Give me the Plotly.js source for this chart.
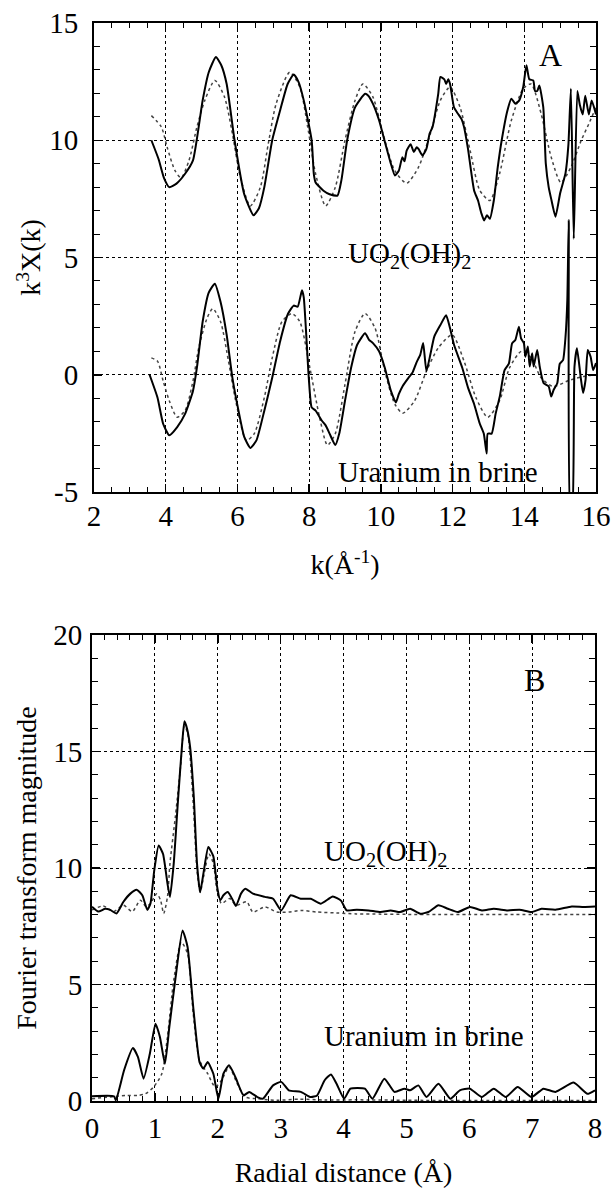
<!DOCTYPE html>
<html>
<head>
<meta charset="utf-8">
<script src="https://cdn.plot.ly/plotly-3.0.1.min.js"></script>
<style>html,body{margin:0;padding:0;background:#fff;}#chart{width:616px;height:1188px;}</style>
</head>
<body>
<div id="chart"></div>
<script>
// ---------- Panel A : k^3 X(k) ----------
const kA_uo2_exp = [3.6,3.8,3.95,4.1,4.3,4.54,4.76,5.03,5.2,5.4,5.55,5.7,5.92,6.19,6.45,6.6,6.75,6.97,7.19,7.4,7.57,7.7,7.85,8.07,8.13,8.18,8.4,8.57,8.79,8.9,9.06,9.28,9.56,9.65,9.78,9.95,10.1,10.28,10.39,10.5,10.6,10.66,10.72,10.83,10.92,11.0,11.05,11.16,11.27,11.36,11.44,11.6,11.66,11.77,11.82,11.88,11.93,12.04,12.15,12.25,12.32,12.43,12.6,12.71,12.8,12.88,12.96,13.04,13.15,13.26,13.37,13.53,13.64,13.75,13.86,13.97,14.06,14.14,14.25,14.3,14.36,14.42,14.53,14.6,14.68,14.75,14.87,15.0,15.15,15.23,15.3,15.38,15.48,15.55,15.63,15.7,15.8,15.88,16.0];
const vA_uo2_exp = [10.0,9.2,8.4,8.0,8.15,8.57,9.14,11.7,12.9,13.55,13.2,12.4,10.0,7.7,6.8,7.1,8.0,10.0,11.27,12.4,12.8,12.5,11.7,10.0,8.57,8.2,7.85,7.7,7.64,8.3,10.0,11.4,11.98,11.9,11.55,10.85,10.0,9.0,8.5,8.7,9.28,9.1,9.56,9.83,9.5,9.7,9.63,9.35,9.63,10.28,10.56,11.98,12.7,12.6,12.4,12.6,12.4,11.4,11.13,10.9,10.56,9.63,7.86,7.43,6.9,6.58,6.8,6.65,7.43,8.85,10.0,11.27,11.77,11.56,11.7,12.27,13.2,12.6,12.55,12.1,12.1,12.33,11.4,9.0,8.0,7.5,6.74,7.74,8.6,9.8,12.2,5.8,12.1,11.5,11.1,11.9,11.1,11.7,11.1];

const kA_uo2_fit = [3.6,3.88,4.04,4.26,4.43,4.65,4.87,5.09,5.37,5.64,5.86,6.08,6.36,6.64,6.86,7.08,7.46,7.74,7.96,8.18,8.46,8.73,9.0,9.28,9.5,9.78,10.06,10.39,10.72,11.05,11.38,11.66,11.93,12.21,12.49,12.76,13.04,13.31,13.64,13.97,14.19,14.47,14.75,15.02,15.3,15.59,15.8,16.0];
const vA_uo2_fit = [11.05,10.56,9.7,8.7,8.4,9.14,10.56,11.7,12.55,11.84,10.28,8.43,7.2,8.0,9.85,11.56,12.9,12.27,10.56,8.57,7.2,8.0,10.0,11.7,12.4,11.84,10.28,8.7,8.17,8.85,10.28,11.7,12.27,11.4,9.56,7.86,7.43,8.57,10.85,12.2,12.4,11.13,9.28,8.2,8.85,10.0,10.7,11.4];

const kA_brine_exp = [3.55,3.77,3.93,4.1,4.32,4.54,4.76,4.87,5.03,5.2,5.37,5.53,5.7,5.86,6.03,6.19,6.36,6.53,6.75,6.97,7.19,7.41,7.57,7.68,7.8,7.85,7.99,8.07,8.18,8.35,8.46,8.57,8.73,8.84,9.0,9.17,9.34,9.56,9.67,9.78,9.95,10.11,10.28,10.42,10.5,10.61,10.77,10.88,10.99,11.1,11.18,11.27,11.38,11.49,11.66,11.82,11.93,12.04,12.27,12.43,12.6,12.76,12.87,12.95,12.98,13.09,13.2,13.32,13.45,13.57,13.66,13.75,13.85,13.91,13.99,14.03,14.1,14.15,14.22,14.26,14.36,14.43,14.54,14.68,14.75,14.82,14.92,14.99,15.08,15.15,15.2,15.24,15.29,15.33,15.4,15.47,15.57,15.64,15.71,15.77,15.85,15.92,16.0];
const vA_brine_exp = [0,-0.97,-2.1,-2.58,-2.23,-1.67,-0.69,0.3,2.26,3.5,3.88,3.1,1.7,-0.13,-1.53,-2.65,-3.12,-2.8,-1.53,-0.13,1.42,2.6,2.95,2.9,3.6,3.3,-0.13,-1.39,-1.53,-1.95,-2.16,-2.51,-3.0,-2.51,-1.11,0.3,1.28,1.77,1.49,1.35,1.0,0.3,-0.69,-1.18,-0.83,-0.48,-0.13,0.08,0.51,0.86,1.35,0.15,0.86,1.63,2.12,2.54,1.98,1.28,0.3,-0.55,-1.25,-2.09,-2.51,-3.36,-2.51,-2.51,-1.67,-0.9,0.2,0.47,1.34,1.48,2.05,1.55,1.34,0.77,1.2,0.35,0.92,0.35,1.06,0.35,-0.36,-0.5,-0.93,-0.64,-0.36,0.47,0.62,1.62,3.18,6.6,-6,-6,0.35,1.13,-0.07,-0.78,-0.21,1.06,0.77,0.2,0.5];

const kA_brine_fit = [3.6,3.77,3.93,4.1,4.32,4.54,4.76,4.92,5.15,5.31,5.53,5.75,5.97,6.25,6.47,6.75,6.97,7.24,7.52,7.74,8.02,8.29,8.51,8.73,9.0,9.28,9.56,9.84,10.11,10.39,10.61,10.94,11.27,11.6,11.99,12.32,12.65,12.98,13.31,13.59,13.92,14.19,14.47,14.8,15.25,15.69,16.0];
const vA_brine_fit = [0.72,0.58,-0.27,-1.11,-1.81,-1.53,-0.27,1.14,2.4,2.82,2.26,0.58,-1.25,-2.8,-2.51,-0.97,0.72,2.26,2.61,2.26,0.3,-1.81,-3.0,-2.51,-0.41,1.84,2.61,1.98,0.15,-1.25,-1.64,-1.11,0.15,1.14,1.7,0.58,-0.97,-1.81,-1.11,0.3,1.0,0.72,-0.13,-0.5,-0.24,-0.06,0.0];

// ---------- Panel B : Fourier transform magnitude ----------
const rB_uo2_exp = [0,0.1,0.21,0.29,0.39,0.5,0.61,0.71,0.8,0.88,0.93,0.99,1.06,1.13,1.2,1.24,1.3,1.37,1.43,1.47,1.51,1.56,1.62,1.67,1.72,1.78,1.85,1.93,1.99,2.04,2.09,2.16,2.24,2.29,2.37,2.44,2.56,2.75,2.88,3.01,3.16,3.32,3.48,3.64,3.83,3.96,4.05,4.21,4.4,4.59,4.75,4.9,5.06,5.22,5.35,5.51,5.66,5.82,6.01,6.2,6.39,6.61,6.8,6.99,7.15,7.37,7.63,7.82,8.0];
const mB_uo2_exp = [8.34,8.13,8.25,8.2,8.05,8.55,8.9,9.07,8.83,8.2,8.48,9.9,10.97,10.6,9.34,8.76,10.2,13.0,15.2,16.3,16.0,15.2,13.0,10.2,8.96,9.9,10.9,10.5,9.2,8.62,8.83,8.97,8.62,8.37,8.9,9.11,8.9,8.76,8.68,8.18,8.83,8.68,8.68,8.47,8.78,8.6,8.18,8.21,8.18,8.11,8.18,8.11,8.25,8.04,8.11,8.4,8.25,8.11,8.33,8.18,8.25,8.18,8.21,8.11,8.25,8.21,8.35,8.33,8.35];

const rB_uo2_fit = [0,0.18,0.34,0.5,0.64,0.77,0.86,0.93,1.03,1.09,1.14,1.2,1.24,1.33,1.41,1.47,1.52,1.56,1.62,1.67,1.72,1.78,1.86,1.93,1.99,2.06,2.19,2.29,2.46,2.56,2.75,2.94,3.13,3.32,3.58,3.89,4.2,4.6,5.0,5.5,6.0,7.0,8.0];
const mB_uo2_fit = [8.2,8.37,8.13,8.4,8.13,8.62,8.34,8.48,8.9,8.62,8.05,8.76,10.2,12.3,14.4,16.1,15.8,14.8,12.3,9.9,8.96,9.7,10.6,10.2,9.0,8.48,8.69,8.4,8.55,8.11,8.33,8.11,8.11,8.18,8.11,8.07,8.03,8.02,8.01,8.0,8.0,8.0,8.0];

const rB_brine_exp = [0,0.35,0.38,0.51,0.65,0.73,0.82,0.92,1.01,1.08,1.16,1.23,1.33,1.44,1.52,1.61,1.71,1.77,1.84,1.93,2.01,2.09,2.18,2.28,2.41,2.5,2.63,2.72,2.88,3.01,3.13,3.32,3.48,3.58,3.7,3.8,3.89,4.01,4.11,4.34,4.46,4.65,4.81,4.97,5.06,5.19,5.32,5.51,5.7,5.85,6.01,6.2,6.39,6.58,6.77,6.99,7.18,7.37,7.66,7.88,8.0];
const mB_brine_exp = [0.2,0.2,0.03,1.32,2.27,1.89,0.96,2.03,3.32,2.75,1.6,3.18,5.32,7.32,6.61,4.03,1.67,1.39,1.67,1.17,0.1,1.17,1.53,1.03,0.24,0.39,0.17,0.1,0.67,0.82,0.46,0.39,0.17,0.24,0.89,1.14,0.74,0.1,0.53,0.53,0.1,0.96,0.39,0.53,0.46,0.67,0.17,0.74,0.1,0.46,0.53,0.17,0.53,0.17,0.6,0.17,0.53,0.39,0.79,0.31,0.46];

const rB_brine_fit = [0,0.28,0.54,0.73,0.85,0.98,1.11,1.2,1.3,1.42,1.52,1.61,1.71,1.84,1.96,2.06,2.18,2.31,2.44,2.63,2.94,3.3,3.7,4.2,5.0,6.0,7.0,8.0];
const mB_brine_fit = [0.1,0.17,0.24,0.24,0.31,0.6,1.17,2.75,5.18,6.82,6.32,3.75,1.75,1.17,0.6,0.89,1.46,0.74,0.17,0.1,0.03,0.08,0.04,0.05,0.03,0.02,0.02,0.02];

// tick labels (panel A y axis uses a plain hyphen as in the original)
const yTicksA = [-5,0,5,10,15];
const yTickTextA = ["-5","0","5","10","15"];

const FONT = 'Liberation Serif';

function solid(){ return {color:'#000', width:2, shape:'spline', smoothing:0.5}; }
function fit(){ return {color:'#444', width:1.5, dash:'dot', shape:'spline', smoothing:0.7}; }

const traces = [
  {x:kA_uo2_fit, y:vA_uo2_fit, xaxis:'x', yaxis:'y', mode:'lines', line:fit(), name:'UO2(OH)2 fit'},
  {x:kA_brine_fit, y:vA_brine_fit, xaxis:'x', yaxis:'y', mode:'lines', line:fit(), name:'brine fit'},
  {x:kA_uo2_exp, y:vA_uo2_exp, xaxis:'x', yaxis:'y', mode:'lines', line:solid(), name:'UO2(OH)2'},
  {x:kA_brine_exp, y:vA_brine_exp, xaxis:'x', yaxis:'y', mode:'lines', line:solid(), name:'Uranium in brine'},
  {x:rB_uo2_fit, y:mB_uo2_fit, xaxis:'x2', yaxis:'y2', mode:'lines', line:fit(), name:'UO2(OH)2 fit'},
  {x:rB_brine_fit, y:mB_brine_fit, xaxis:'x2', yaxis:'y2', mode:'lines', line:fit(), name:'brine fit'},
  {x:rB_uo2_exp, y:mB_uo2_exp, xaxis:'x2', yaxis:'y2', mode:'lines', line:solid(), name:'UO2(OH)2'},
  {x:rB_brine_exp, y:mB_brine_exp, xaxis:'x2', yaxis:'y2', mode:'lines', line:solid(), name:'Uranium in brine'}
];

function axisBase(extra){
  return Object.assign({
    showline:true, linecolor:'#000', linewidth:2, mirror:'allticks',
    ticks:'inside', ticklen:8, tickwidth:1.5, tickcolor:'#000',
    showgrid:true, gridcolor:'#000', gridwidth:1, griddash:'dot',
    zeroline:false, automargin:false, fixedrange:true,
    tickfont:{family:FONT, size:29, color:'#000'}
  }, extra);
}

const layout = {
  width:616, height:1188,
  margin:{l:0, r:0, t:0, b:0},
  paper_bgcolor:'#fff', plot_bgcolor:'#fff',
  showlegend:false,
  font:{family:FONT, color:'#000'},
  xaxis: axisBase({
    domain:[94/616, 596/616], anchor:'y', range:[2,16],
    tickmode:'linear', tick0:2, dtick:2, ticklabelstandoff:-3,
    minor:{ticks:'inside', dtick:0.5, ticklen:5, tickwidth:1, tickcolor:'#000'},
    title:{text:'k(Å<sup>-1</sup>)', font:{family:FONT, size:28, color:'#000'}, standoff:24}
  }),
  yaxis: axisBase({
    domain:[1-492/1188, 1-23/1188], anchor:'x', range:[-5,15],
    tickmode:'array', tickvals:yTicksA, ticktext:yTickTextA, ticklabelstandoff:8,
    minor:{ticks:'inside', tickmode:'linear', tick0:0, dtick:1, ticklen:6, tickwidth:1, tickcolor:'#000'},
    title:{text:'k<sup>3</sup>X(k)', font:{family:FONT, size:28, color:'#000'}, standoff:0}
  }),
  xaxis2: axisBase({
    domain:[92/616, 595/616], anchor:'y2', range:[0,8],
    tickmode:'linear', tick0:0, dtick:1, ticklabelstandoff:0,
    minor:{ticks:'inside', dtick:0.2, ticklen:5, tickwidth:1, tickcolor:'#000'},
    title:{text:'Radial distance (Å)', font:{family:FONT, size:28, color:'#000'}, standoff:28}
  }),
  yaxis2: axisBase({
    domain:[1-1101/1188, 1-635/1188], anchor:'x2', range:[0,20],
    tickmode:'linear', tick0:0, dtick:5, ticklabelstandoff:2,
    minor:{ticks:'inside', dtick:1, ticklen:6, tickwidth:1, tickcolor:'#000'},
    title:{text:'Fourier transform magnitude', font:{family:FONT, size:28, color:'#000'}, standoff:8}
  }),
  annotations:[
    {xref:'x', yref:'y', x:14.73, y:13.64, text:'A', showarrow:false, font:{family:FONT, size:32, color:'#000'}},
    {xref:'x', yref:'y', x:10.8, y:5.1, text:'UO<sub>2</sub>(OH)<sub>2</sub>', showarrow:false, font:{family:FONT, size:29, color:'#000'}},
    {xref:'x', yref:'y', x:11.58, y:-4.15, text:'Uranium in brine', showarrow:false, font:{family:FONT, size:29, color:'#000'}},
    {xref:'x2', yref:'y2', x:7.03, y:18.07, text:'B', showarrow:false, font:{family:FONT, size:32, color:'#000'}},
    {xref:'x2', yref:'y2', x:4.67, y:10.65, text:'UO<sub>2</sub>(OH)<sub>2</sub>', showarrow:false, font:{family:FONT, size:29, color:'#000'}},
    {xref:'x2', yref:'y2', x:5.28, y:2.79, text:'Uranium in brine', showarrow:false, font:{family:FONT, size:29, color:'#000'}}
  ]
};

Plotly.newPlot('chart', traces, layout, {staticPlot:true, displayModeBar:false});
</script>
</body>
</html>
